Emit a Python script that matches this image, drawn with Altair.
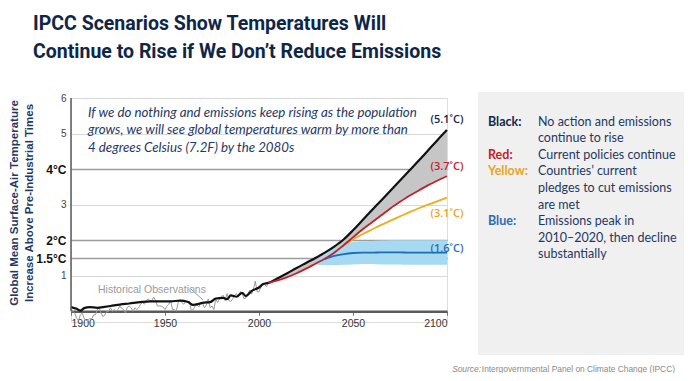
import altair as alt
import pandas as pd

# ---------------- data ----------------
hist_years = [1900, 1903, 1905, 1907, 1910, 1914, 1917, 1921, 1926, 1931, 1937, 1942, 1947,
              1953, 1958, 1962, 1965, 1968, 1970, 1974, 1977, 1981, 1983, 1985, 1988, 1991,
              1993, 1996, 2000, 2002]
hist_vals = [0.12, 0.07, 0.02, 0.09, 0.12, 0.10, 0.12, 0.15, 0.19, 0.22, 0.26, 0.28, 0.28,
             0.28, 0.30, 0.27, 0.18, 0.21, 0.24, 0.26, 0.36, 0.38, 0.34, 0.45, 0.41, 0.52,
             0.43, 0.57, 0.67, 0.76]

obs_years = list(range(1900, 2006))
obs_vals = [0.05, 0.0, -0.05, -0.2, -0.25, -0.1, -0.05, -0.2, -0.25, -0.25,
            -0.2, -0.22, -0.1, -0.1, 0.05, 0.1, -0.05, -0.15, -0.1, 0.0,
            0.0, 0.1, 0.0, 0.05, 0.0, 0.05, 0.15, 0.08, 0.05, -0.05,
            0.12, 0.15, 0.1, 0.0, 0.1, 0.05, 0.1, 0.2, 0.25, 0.2,
            0.3, 0.35, 0.3, 0.3, 0.4, 0.3, 0.15, 0.15, 0.15, 0.12,
            0.05, 0.15, 0.2, 0.3, 0.05, 0.05, 0.0, 0.25, 0.3, 0.25,
            0.2, 0.28, 0.25, 0.28, 0.02, 0.05, 0.15, 0.18, 0.12, 0.25,
            0.22, 0.1, 0.18, 0.35, 0.1, 0.15, 0.05, 0.35, 0.25, 0.35,
            0.42, 0.45, 0.3, 0.5, 0.3, 0.28, 0.35, 0.45, 0.5, 0.4,
            0.55, 0.52, 0.35, 0.38, 0.45, 0.6, 0.48, 0.62, 0.85, 0.55,
            0.55, 0.68, 0.75, 0.75, 0.7, 0.8]

proj_years = [2005, 2010, 2015, 2020, 2025, 2030, 2035, 2040, 2045, 2050,
              2055, 2060, 2065, 2070, 2075, 2080, 2085, 2090, 2095, 2100]
black_proj = [0.8, 0.93, 1.07, 1.22, 1.36, 1.5, 1.65, 1.82, 2.02, 2.28,
              2.56, 2.84, 3.12, 3.4, 3.68, 3.96, 4.24, 4.53, 4.82, 5.1]
red_proj = [0.8, 0.87, 0.96, 1.07, 1.2, 1.34, 1.48, 1.65, 1.86, 2.08,
            2.3, 2.5, 2.7, 2.9, 3.08, 3.25, 3.4, 3.55, 3.68, 3.8]

yellow_years = [2040, 2045, 2050, 2055, 2060, 2065, 2070, 2075, 2080, 2085, 2090, 2095, 2100]
yellow_proj = [1.65, 1.85, 2.02, 2.17, 2.3, 2.43, 2.55, 2.67, 2.79, 2.9, 3.0, 3.1, 3.2]

blue_years = [2035, 2040, 2045, 2050, 2055, 2060, 2065, 2070, 2075, 2080, 2085, 2090, 2095, 2100]
blue_proj = [1.47, 1.56, 1.61, 1.64, 1.65, 1.65, 1.66, 1.66, 1.66, 1.65, 1.65, 1.65, 1.65, 1.65]

band_years = [2030, 2035, 2040, 2045, 2050, 2055, 2060, 2065, 2070, 2075, 2080, 2085, 2090, 2095, 2100]
band_low = [1.32, 1.3, 1.3, 1.31, 1.32, 1.33, 1.33, 1.32, 1.32, 1.32, 1.31, 1.31, 1.31, 1.31, 1.31]
band_high = [1.38, 1.6, 1.78, 1.9, 1.95, 1.97, 1.98, 1.99, 2.0, 2.0, 2.0, 2.0, 2.0, 2.0, 2.0]

y_ticks = [1, 1.5, 2, 3, 4, 5, 6]
x_ticks = [1900, 1950, 2000, 2050, 2100]

end_labels = ["(5.1˚C)", "(3.7˚C)", "(3.1˚C)", "(1.6˚C)"]
end_label_y = [5.38, 4.06, 2.75, 1.75]

title_lines = ["IPCC Scenarios Show Temperatures Will",
               "Continue to Rise if We Don’t Reduce Emissions"]
ytitle_lines = ["Global Mean Surface-Air Temperature",
                "Increase Above Pre-Industrial Times"]
note_lines = ["If we do nothing and emissions keep rising as the population",
              "grows, we will see global temperatures warm by more than",
              "4 degrees Celsius (7.2F) by the 2080s"]
legend_keys = ["Black:", "Red:", "Yellow:", "Blue:"]
legend_text = [["No action and emissions", "continue to rise"],
               ["Current policies continue"],
               ["Countries’ current", "pledges to cut emissions", "are met"],
               ["Emissions peak in", "2010–2020, then decline", "substantially"]]

# ---------------- frames ----------------
black_df = pd.DataFrame({"year": hist_years + proj_years, "t": hist_vals + black_proj})
obs_df = pd.DataFrame({"year": obs_years, "t": obs_vals})
red_df = pd.DataFrame({"year": proj_years, "t": red_proj})
yel_df = pd.DataFrame({"year": yellow_years, "t": yellow_proj})
blue_df = pd.DataFrame({"year": blue_years, "t": blue_proj})
gband_df = pd.DataFrame({"year": proj_years, "lo": red_proj, "hi": black_proj})
bband_df = pd.DataFrame({"year": band_years, "lo": band_low, "hi": band_high})

NAVY = "#13294b"
RED = "#c3202b"
GOLD = "#eeac1e"
BLUE = "#1f6db1"

W, H = 376, 224
xs = alt.Scale(domain=[1900, 2100], nice=False)
ys = alt.Scale(domain=[-0.3, 6], nice=False, zero=False)

bold_test = "datum.value == 1.5 || datum.value == 2 || datum.value == 4"

x_axis = alt.Axis(values=x_ticks, format="d", grid=False, title=None,
                  domainColor="#5a5a5a", domainWidth=2.5, tickColor="#777",
                  tickSize=4, labelPadding=3, labelFontSize=10.5, labelColor="#333",
                  labelFont="Liberation Sans", offset=-10.7, labelOverlap=False)
y_axis = alt.Axis(values=y_ticks, title=None, domain=False, ticks=False,
                  labelPadding=5, labelFont="Liberation Sans", labelOverlap=False,
                  labelExpr=f"({bold_test}) ? datum.value + '°C' : datum.value",
                  labelFontWeight={"condition": {"test": bold_test, "value": "bold"}, "value": "normal"},
                  labelFontSize={"condition": {"test": bold_test, "value": 12}, "value": 10},
                  labelColor={"condition": {"test": bold_test, "value": "#111"}, "value": "#444"},
                  gridColor={"condition": {"test": bold_test, "value": "#9c9c9c"}, "value": "#d8d8d8"},
                  gridWidth={"condition": {"test": bold_test, "value": 1.3}, "value": 1})


def XQ():
    return alt.X("year:Q", scale=xs, axis=x_axis)


def YQ(field):
    return alt.Y(field, scale=ys, axis=y_axis)


gband = alt.Chart(gband_df).mark_area(color="#c6c6c6", interpolate="monotone").encode(
    x=XQ(), y=YQ("lo:Q"), y2="hi:Q")
bband = alt.Chart(bband_df).mark_area(color="#a6daf2", interpolate="monotone").encode(
    x=XQ(), y=YQ("lo:Q"), y2="hi:Q")

obs = alt.Chart(obs_df).mark_line(color="#9a9a9a", strokeWidth=1).encode(x=XQ(), y=YQ("t:Q"))
black = alt.Chart(black_df).mark_line(color="#111111", strokeWidth=2.2, interpolate="monotone").encode(
    x=XQ(), y=YQ("t:Q"))
yel = alt.Chart(yel_df).mark_line(color=GOLD, strokeWidth=1.8, interpolate="monotone").encode(
    x=XQ(), y=YQ("t:Q"))
blue = alt.Chart(blue_df).mark_line(color=BLUE, strokeWidth=1.8, interpolate="monotone").encode(
    x=XQ(), y=YQ("t:Q"))
red = alt.Chart(red_df).mark_line(color=RED, strokeWidth=1.8, interpolate="monotone").encode(
    x=XQ(), y=YQ("t:Q"))

yrule = alt.Chart().mark_rule(color="#5a5a5a", strokeWidth=1.5).encode(
    x=alt.datum(1900, scale=xs, axis=x_axis), y=alt.datum(0, scale=ys, axis=y_axis),
    y2=alt.datum(6))

layers = [gband, bband, obs, black, yel, blue, red, yrule]

label_colors = [NAVY, RED, "#e8a71c", "#2a6cb3"]
for t, yv, col in zip(end_labels, end_label_y, label_colors):
    layers.append(alt.Chart().mark_text(font="Open Sans", fontSize=11, fontWeight=600,
                                        color=col, align="center").encode(
        x=alt.datum(2100, scale=xs, axis=x_axis), y=alt.datum(yv, scale=ys, axis=y_axis),
        text=alt.value(t)))

# plot-area origin is at page (71, 98)
OX, OY = 71, 98


def txt(s, px, py, **kw):
    return alt.Chart().mark_text(**kw).encode(
        x=alt.value(px - OX), y=alt.value(py - OY), text=alt.value(s))


# historical observations label and leader
layers.append(txt("Historical Observations", 98, 290, align="left", baseline="middle",
                  font="Liberation Sans", fontSize=10.5, color="#9a9a9a"))
layers.append(alt.Chart().mark_rule(color="#9a9a9a", strokeWidth=1).encode(
    x=alt.value(191 - OX), y=alt.value(289 - OY), x2=alt.value(203 - OX), y2=alt.value(300 - OY)))

# italic note
for i, s in enumerate(note_lines):
    layers.append(txt(s, 88, 113 + i * 17.3, align="left", baseline="middle", font="Lato",
                      fontSize=13.3, fontStyle="italic", color="#1f3864"))

# title
for i, s in enumerate(title_lines):
    layers.append(txt(s, 33, 30 + i * 27.5, align="left", baseline="alphabetic",
                      font="Roboto", fontSize=19.5, fontWeight="bold", color="#0f2647"))

# y-axis title (rotated)
for i, s in enumerate(ytitle_lines):
    layers.append(txt(s, 15 + i * 15, 203, align="center", baseline="middle", angle=270,
                      font="Liberation Sans", fontSize=11.5, fontWeight="bold", color="#1f3864"))

# legend panel
layers.append(alt.Chart().mark_rect(color="#f0f0f0").encode(
    x=alt.value(478 - OX), x2=alt.value(684 - OX), y=alt.value(92 - OY), y2=alt.value(355 - OY)))
key_colors = [NAVY, RED, "#e6a41c", "#2a6cb3"]
row = 0
for key, lines, col in zip(legend_keys, legend_text, key_colors):
    layers.append(txt(key, 488, 121.5 + row * 16.6, align="left", baseline="middle", font="Lato",
                      fontSize=12.5, fontWeight="bold", color=col))
    for s in lines:
        layers.append(txt(s, 538, 121.5 + row * 16.6, align="left", baseline="middle", font="Lato",
                          fontSize=12.5, color="#1f3864"))
        row += 1

# source
layers.append(txt("Intergovernmental Panel on Climate Change (IPCC)", 675, 369, align="right",
                  baseline="middle", font="Liberation Sans", fontSize=8.4, color="#8a8a8a"))
layers.append(txt("Source:", 481, 369, align="right", baseline="middle", font="Liberation Sans",
                  fontSize=8.4, fontStyle="italic", color="#8a8a8a"))

chart = alt.layer(*layers).properties(
    width=W, height=H,
    autosize=alt.AutoSizeParams(type="none"),
    padding={"left": 63, "top": 90, "right": 676 - 63 - W, "bottom": 365 - 90 - H},
).configure_view(stroke=None).configure(background="white")

chart.save("out.html", embed_options={"renderer": "svg", "actions": False})
